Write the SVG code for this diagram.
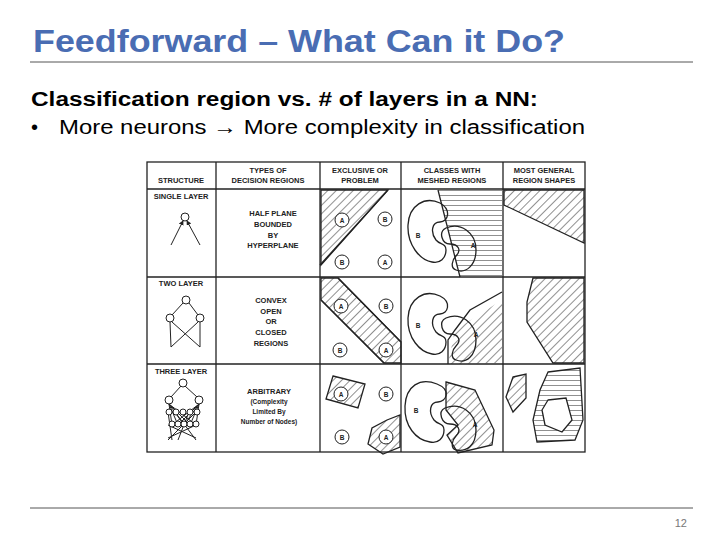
<svg xmlns="http://www.w3.org/2000/svg" width="720" height="540" viewBox="0 0 720 540">
<style>
.t{font-family:"Liberation Sans",Arial,sans-serif}
.h{font-family:"Liberation Sans",Arial,sans-serif;font-size:7.5px;font-weight:bold;fill:#222;text-anchor:middle}
.g{stroke:#222;stroke-width:1.3;fill:none}
.c{stroke:#222;stroke-width:1;fill:#fff}
.d{fill:url(#diag);stroke:#222;stroke-width:1.3}
.z{fill:url(#hor);stroke:#222;stroke-width:1.3}
.l{font-family:"Liberation Sans",Arial,sans-serif;font-size:6.5px;font-weight:bold;fill:#222;text-anchor:middle}
</style>
<defs>
<pattern id="diag" width="6" height="6" patternUnits="userSpaceOnUse" patternTransform="rotate(45)"><line x1="0" y1="0" x2="0" y2="6" stroke="#222" stroke-width="1"/></pattern>
<pattern id="hor" width="6" height="5" patternUnits="userSpaceOnUse"><line x1="0" y1="0" x2="6" y2="0" stroke="#222" stroke-width="1"/></pattern>
<marker id="ar" viewBox="0 0 6 6" refX="5" refY="3" markerWidth="5" markerHeight="5" markerUnits="userSpaceOnUse" orient="auto"><path d="M0,0L6,3L0,6z" fill="#222"/></marker>
</defs>
<rect width="720" height="540" fill="#fff"/>
<g id="title">
<text class="t" x="33" y="52" font-size="31" font-weight="bold" fill="#4a6db3" textLength="532" lengthAdjust="spacingAndGlyphs">Feedforward – What Can it Do?</text>
<line x1="30" y1="62" x2="693" y2="62" stroke="#555" stroke-width="1"/>
</g>
<g id="body">
<text class="t" x="31" y="106" font-size="20" font-weight="bold" fill="#000" textLength="507" lengthAdjust="spacingAndGlyphs">Classification region vs. # of layers in a NN:</text>
<text class="t" x="31" y="134" font-size="20" fill="#000">•</text>
<text class="t" x="59" y="134" font-size="20" fill="#000" textLength="526" lengthAdjust="spacingAndGlyphs">More neurons → More complexity in classification</text>
</g>
<g id="table">
<rect x="147" y="162" width="438" height="290" class="g" fill="#fff"/>
<g class="g">
<line x1="216" y1="162" x2="216" y2="452"/><line x1="320" y1="162" x2="320" y2="452"/>
<line x1="401" y1="162" x2="401" y2="452"/><line x1="503" y1="162" x2="503" y2="452"/>
<line x1="147" y1="189" x2="585" y2="189"/><line x1="147" y1="277" x2="585" y2="277"/>
<line x1="147" y1="364" x2="585" y2="364"/>
</g>
<text class="h" x="181" y="183">STRUCTURE</text>
<text class="h" x="268" y="173">TYPES OF</text><text class="h" x="268" y="183">DECISION REGIONS</text>
<text class="h" x="360" y="173">EXCLUSIVE OR</text><text class="h" x="360" y="183">PROBLEM</text>
<text class="h" x="452" y="173">CLASSES WITH</text><text class="h" x="452" y="183">MESHED REGIONS</text>
<text class="h" x="544" y="173">MOST GENERAL</text><text class="h" x="544" y="183">REGION SHAPES</text>
<text class="h" x="181" y="199">SINGLE LAYER</text>
<text class="h" x="181" y="286">TWO LAYER</text>
<text class="h" x="181" y="374">THREE LAYER</text>
<text class="h" x="273" y="216">HALF PLANE</text><text class="h" x="273" y="227">BOUNDED</text><text class="h" x="273" y="238">BY</text><text class="h" x="273" y="248">HYPERPLANE</text>
<text class="h" x="271" y="303">CONVEX</text><text class="h" x="271" y="314">OPEN</text><text class="h" x="271" y="324">OR</text><text class="h" x="271" y="335">CLOSED</text><text class="h" x="271" y="346">REGIONS</text>
<text class="h" x="269" y="394">ARBITRARY</text><text class="l" x="269" y="404">(Complexity</text><text class="l" x="269" y="414">Limited By</text><text class="l" x="269" y="424">Number of Nodes)</text>
</g>
<g id="nets" stroke="#222" stroke-width="1" fill="#fff">
<circle cx="185" cy="217" r="4"/>
<line x1="171" y1="245" x2="183" y2="221" marker-end="url(#ar)"/><line x1="200" y1="245" x2="187" y2="221" marker-end="url(#ar)"/>
<circle cx="186" cy="300" r="4"/><circle cx="170" cy="318" r="4"/><circle cx="200" cy="318" r="4"/>
<line x1="172" y1="315" x2="183" y2="303"/><line x1="198" y1="315" x2="189" y2="303"/>
<line x1="170" y1="322" x2="171" y2="347"/><line x1="200" y1="322" x2="200" y2="347"/>
<line x1="172" y1="322" x2="200" y2="347"/><line x1="198" y1="322" x2="171" y2="347"/>
<circle cx="183" cy="383" r="4"/><circle cx="169" cy="400" r="4"/><circle cx="199" cy="400" r="4"/>
<line x1="171" y1="397" x2="181" y2="386"/><line x1="197" y1="397" x2="185" y2="386"/>
<g fill="none">
<path d="M169,404L172,425M169,404L178,425M169,404L184,425M169,404L190,425M169,404L196,425M199,404L172,425M199,404L178,425M199,404L184,425M199,404L190,425M199,404L196,425"/>
<path d="M168,412L172,440M175,412L196,440M196,412L168,440M189,412L178,440M168,425L196,438M196,425L168,438"/>
</g>
<circle cx="169" cy="412" r="3"/><circle cx="176" cy="412" r="3"/><circle cx="183" cy="412" r="3"/><circle cx="190" cy="412" r="3"/><circle cx="197" cy="412" r="3"/>
<circle cx="172" cy="424" r="3"/><circle cx="178" cy="424" r="3"/><circle cx="184" cy="424" r="3"/><circle cx="190" cy="424" r="3"/><circle cx="196" cy="424" r="3"/>
</g>
<g id="xor">
<polygon class="d" points="321,190 388,190 321,265" stroke="none"/>
<line class="g" x1="388" y1="190" x2="320" y2="265"/>
<polygon class="d" points="321,278 338,278 401,342 401,363 384,363 321,300" stroke="none"/>
<polyline class="g" points="338,278 401,342"/><polyline class="g" points="321,300 384,363"/>
<polygon class="d" points="333,376 365,384 358,408 326,399"/>
<polygon class="d" points="387,420 400,415 400,447 383,454 368,444 372,428"/>
<g class="c">
<circle cx="342" cy="220" r="7"/><circle cx="385" cy="219" r="7"/><circle cx="342" cy="262" r="7"/><circle cx="385" cy="262" r="7"/>
<circle cx="341" cy="306" r="7"/><circle cx="386" cy="306" r="7"/><circle cx="340" cy="350" r="7"/><circle cx="386" cy="350" r="7"/>
<circle cx="341" cy="394" r="7"/><circle cx="386" cy="394" r="7"/><circle cx="342" cy="437" r="7"/><circle cx="386" cy="437" r="7"/>
</g>
<g class="l"><text x="342" y="223">A</text><text x="385" y="222">B</text><text x="342" y="265">B</text><text x="385" y="265">A</text>
<text x="341" y="309">A</text><text x="386" y="309">B</text><text x="340" y="353">B</text><text x="386" y="353">A</text>
<text x="341" y="397">A</text><text x="386" y="397">B</text><text x="342" y="440">B</text><text x="386" y="440">A</text></g>
</g>
<g id="meshed">
<polygon points="438,190 502,190 502,276 460,276" fill="url(#hor)"/>
<line class="g" x1="438" y1="190" x2="460" y2="277"/>
<path class="g" fill="#fff" d="M440,203C425,196 409,205 408,225C407,245 420,260 432,262C440,264 446,258 446,250C446,243 440,245 436,240C430,232 432,222 440,222C448,222 452,210 440,203Z"/>
<path class="g" fill="url(#hor)" d="M446,228C460,222 476,232 476,250C476,265 466,274 456,270C450,268 452,260 456,256C462,250 458,244 450,244C442,244 438,232 446,228Z"/>
<polygon points="448,364 455,330 502,300 502,363" fill="url(#diag)"/>
<polyline class="g" points="448,364 448,340 455,330 470,310 502,292"/>
<path class="g" fill="none" d="M440,296C425,289 409,298 408,318C407,338 420,352 432,354C440,356 446,350 446,342C446,335 440,337 436,332C430,324 432,314 440,314C448,314 452,302 440,296Z"/>
<path class="g" fill="none" d="M446,318C460,312 476,322 476,340C476,356 466,364 456,360C450,358 452,350 456,346C462,340 458,334 450,334C442,334 438,322 446,318Z"/>
<polygon class="d" points="446,382 475,390 494,430 492,445 458,453 447,435 458,425 446,410"/>
<path class="g" fill="#fff" d="M437,384C420,377 406,386 405,406C404,426 416,440 430,442C438,444 444,438 444,430C444,423 438,425 434,420C428,412 430,402 438,402C446,402 452,390 437,384Z"/>
<path class="g" fill="url(#hor)" d="M445,408C460,402 476,412 476,430C476,446 466,452 456,450C450,448 452,440 456,436C462,430 458,424 450,424C442,424 437,412 445,408Z"/>
<g class="l"><text x="418" y="238">B</text><text x="473" y="248">A</text><text x="418" y="328">B</text><text x="476" y="337">A</text><text x="416" y="413">B</text><text x="475" y="427">A</text></g>
</g>
<g id="general">
<polygon class="d" points="504,190 584,190 584,243 504,205"/>
<polygon class="d" points="533,278 584,278 584,363 553,363 527,322 527,302"/>
<polygon class="d" points="513,377 526,374 526,398 513,412 506,397"/>
<path class="z" fill-rule="evenodd" d="M548,372L580,368L583,420L575,440L537,442L533,420L540,390Z M548,400L566,398L572,420L562,432L545,425L542,410Z"/>
</g>
<g id="footer">
<line x1="30" y1="508" x2="693" y2="508" stroke="#555" stroke-width="1"/>
<text class="t" x="687" y="527" font-size="11" fill="#777" text-anchor="end">12</text>
</g>
</svg>
